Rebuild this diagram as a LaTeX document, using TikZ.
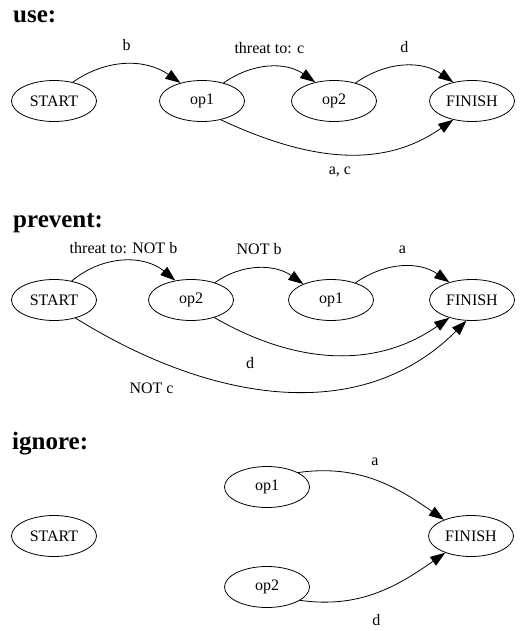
\documentclass[tikz,border=0pt]{standalone}
\usepackage{fontspec}
\setmainfont{Liberation Serif}
\usetikzlibrary{arrows.meta,shapes.geometric}
\tikzset{
  state/.style={ellipse,draw,line width=0.8pt,minimum width=85pt,
    minimum height=41pt,inner sep=0pt,font=\fontsize{16}{19}\selectfont},
  edge/.style={line width=0.8pt,-{Triangle[length=15pt,width=10.5pt]}},
  lbl/.style={inner sep=0pt,font=\fontsize{16}{19}\selectfont},
  heading/.style={anchor=base west,inner sep=0pt,
    font=\fontsize{25}{29}\selectfont\bfseries}
}

\begin{document}
\begin{tikzpicture}[x=1pt,y=1pt]
  \useasboundingbox (0,0) rectangle (524,-631);
  % use
  \node[heading] (useh) at (13,-23) {use:};
  \node[state] (u0) at (54,-101) {START};
  \node[state] (u1) at (202,-101) {op1};
  \node[state] (u2) at (334,-101) {op2};
  \node[state] (u3) at (472,-101) {FINISH};
  \draw[edge] (u0.45) to[out=35,in=145] node[lbl,above=13pt] (ub) {b} (u1.140);
  \draw[edge] (u1.40) to[out=35,in=145] node[lbl,above=13pt] (uc) {threat to: c} (u2.135);
  \draw[edge] (u2.40) to[out=35,in=145] node[lbl,above=13pt] (ud) {d} (u3.135);
  \draw[edge] (u1.-45) to[out=-25,in=215] node[lbl,below=13pt] (uac) {a, c} (u3.225);
  % prevent
  \node[heading] (prevh) at (13,-227) {prevent:};
  \node[state] (p0) at (54,-300) {START};
  \node[state] (p1) at (191,-300) {op2};
  \node[state] (p2) at (331,-300) {op1};
  \node[state] (p3) at (472,-300) {FINISH};
  \draw[edge] (p0.47) to[out=40,in=140] node[lbl,above=7pt] (pnb1) {threat to: NOT b} (p1.129);
  \draw[edge] (p1.36) to[out=35,in=145] node[lbl,above=13pt] (pnb2) {NOT b} (p2.150);
  \draw[edge] (p2.35) to[out=35,in=145] node[lbl,above=13pt] (pa) {a} (p3.142);
  \draw[edge] (p1.-37) to[out=-30,in=215] node[lbl,pos=0.15,below=22pt] (pd) {d} (p3.218);
  \draw[edge] (p0.-40) to[out=-32,in=225] node[lbl,pos=0.19,below=24pt] (pnc) {NOT c} (p3.255);
  % ignore
  \node[heading] (ignh) at (12,-449) {ignore:};
  \node[state] (i0) at (54,-536) {START};
  \node[state] (i1) at (267,-487) {op1};
  \node[state] (i2) at (267,-587) {op2};
  \node[state] (i3) at (471,-536) {FINISH};
  \draw[edge] (i1.25) to[out=8,in=145] node[lbl,above=14pt] (ia) {a} (i3.149);
  \draw[edge] (i2.-22) to[out=-8,in=215] node[lbl,below=22pt] (id) {d} (i3.213);
\end{tikzpicture}
\end{document}
